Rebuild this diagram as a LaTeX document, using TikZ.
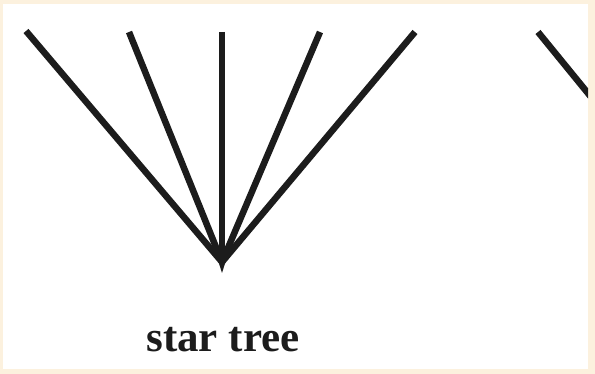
\documentclass[tikz,border=0pt]{standalone}
\usepackage{fontspec}
\setmainfont{Liberation Serif}
\usetikzlibrary{positioning}
\definecolor{STCream}{HTML}{FCF1DE}
\definecolor{STInk}{HTML}{1C1C1C}
\tikzset{
  stEdge/.style={draw=STInk, line width=6.5pt},
  stLabel/.style={font=\fontsize{43}{47}\selectfont\bfseries, text=STInk, inner sep=0pt}
}
\begin{document}
\begin{tikzpicture}[x=1pt, y=-1pt]
  \fill[STCream] (0,0) rectangle (595,374);
  \fill[white] (3,4) rectangle (588,369);
  \useasboundingbox (0,0) rectangle (595,374);

  \coordinate (root) at (222,262);
  \coordinate (leafA) at (26,31);
  \coordinate (leafB) at (129,32);
  \coordinate (leafC) at (222,32);
  \coordinate (leafD) at (320,32);
  \coordinate (leafE) at (415,32);
  \foreach \leaf in {leafA,leafB,leafC,leafD,leafE}
    \draw[stEdge] (\leaf) -- (root);
  \fill[STInk] (216,254) -- (222,273) -- (228,254) -- cycle;

  % next tree, cut off at the right edge
  \coordinate (nextTop) at (538,32);
  \coordinate (nextLow) at (600,108);
  \begin{scope}
    \clip (3,4) rectangle (588,369);
    \draw[stEdge] (nextTop) -- (nextLow);
  \end{scope}

  \node[stLabel, anchor=base] (caption) at (223,352) {star tree};
\end{tikzpicture}
\end{document}
